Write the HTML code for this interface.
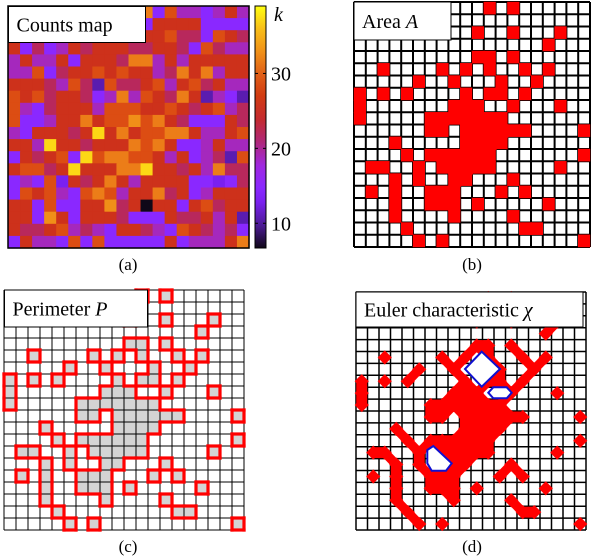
<!DOCTYPE html>
<html><head><meta charset="utf-8"><style>
html,body{margin:0;padding:0;background:#fff;}
svg{display:block;}
text,tspan{font-family:"Liberation Serif","DejaVu Serif","Times New Roman",Times,serif;}
</style></head><body>
<svg id="fig" width="600" height="560" viewBox="0 0 600 560" xmlns="http://www.w3.org/2000/svg">
<defs>
<linearGradient id="cbgrad" x1="0" y1="1" x2="0" y2="0">
<stop offset="0" stop-color="#100818"/>
<stop offset="0.09" stop-color="#4a1a90"/>
<stop offset="0.19" stop-color="#7a20f0"/>
<stop offset="0.25" stop-color="#8a28ff"/>
<stop offset="0.34" stop-color="#a028e0"/>
<stop offset="0.44" stop-color="#b02878"/>
<stop offset="0.53" stop-color="#c42a30"/>
<stop offset="0.63" stop-color="#d23c12"/>
<stop offset="0.72" stop-color="#e06018"/>
<stop offset="0.81" stop-color="#f09018"/>
<stop offset="0.91" stop-color="#f8c018"/>
<stop offset="1" stop-color="#ffff10"/>
</linearGradient>
</defs>
<g id="pa"></g>
<g id="pb"></g>
<g id="pc"></g>
<g id="pd"></g>
</svg>
<script>
const counts = [
[22,26,19,26,15,26,22,19,26,22,26,32,15,29,19,19,15,19,26,19],
[26,19,22,26,26,15,22,26,19,26,22,15,26,26,26,26,15,15,15,15],
[19,26,26,22,19,26,26,22,26,19,26,26,26,29,22,22,15,29,26,22],
[26,15,22,15,19,26,22,26,26,26,22,22,26,26,22,15,29,22,19,19],
[19,26,19,19,26,15,26,26,26,22,32,32,19,26,19,26,26,26,26,26],
[19,19,29,15,22,26,26,29,26,29,26,26,19,22,32,26,32,19,26,26],
[26,26,26,22,19,29,22,11,29,22,22,26,29,19,26,29,22,26,19,19],
[29,26,29,22,26,26,22,15,19,32,19,29,26,22,32,26,11,19,15,11],
[29,19,15,22,26,26,26,19,29,29,29,26,26,29,26,22,26,29,19,22],
[29,15,15,19,26,26,32,26,29,29,33,29,32,26,22,15,15,15,26,22],
[19,15,26,26,26,22,26,37,26,32,26,29,29,32,32,26,19,19,26,29],
[26,26,19,37,26,26,22,26,26,26,32,29,32,26,15,15,19,26,19,19],
[15,26,22,26,29,15,37,29,32,32,29,29,26,19,26,15,19,22,11,29],
[26,29,29,22,26,37,26,26,26,32,32,37,26,26,22,26,19,32,22,22],
[15,19,15,29,13,26,22,26,32,26,19,26,26,26,26,15,15,13,15,22],
[15,29,26,29,19,15,29,32,29,19,26,26,32,22,26,15,19,26,26,26],
[26,26,15,29,15,15,26,26,33,22,26,7,26,26,15,26,29,22,26,26],
[26,26,15,33,26,15,26,26,26,22,15,15,15,26,22,22,26,19,26,11],
[26,22,22,26,29,19,22,19,15,26,26,22,19,15,29,26,22,19,22,15],
[15,26,19,19,15,29,15,29,15,15,15,15,15,26,15,19,19,19,26,32]
];
const cbTicks = [10,20,30];
const cbMin = 6.7, cbMax = 39;
// red (above-threshold) cells per row: column indices
const areaRows = [
[11,13],[],[10,13,17],[16],[10,11,13],[2,7,9,11,14,16],[5,8,12,15],
[0,2,4,9,11,12,14],[0,8,9,10,13,17],[0,6,7,8,9,10,11,12],
[6,7,9,10,11,12,13,14,19],[3,9,10,11,12],[4,6,7,8,9,10,11,19],
[1,2,5,7,8,9,10,11,17],[3,5,8,9,13],[1,3,6,7,8,12,14],[3,6,7,8,10,16],
[3,8,13],[4,14,15],[5,7,19]
];
const N = 20;
const NS = "http://www.w3.org/2000/svg";
const SERIF = "'Liberation Serif','DejaVu Serif','Times New Roman',Times,serif";
function mk(parent, tag, attrs){const e=document.createElementNS(NS,tag);for(const k in attrs)e.setAttribute(k,attrs[k]);parent.appendChild(e);return e;}
const stops=[[7,[16,8,24]],[10,[74,26,144]],[13,[122,32,240]],[15,[138,40,255]],[18,[160,40,224]],[21,[176,40,120]],[23,[192,40,64]],[25,[200,42,32]],[28,[214,62,16]],[31,[232,108,24]],[34,[244,160,24]],[36,[250,196,24]],[39,[255,255,16]]];
function cmap(v){if(v<=stops[0][0])return `rgb(${stops[0][1]})`;for(let i=1;i<stops.length;i++){if(v<=stops[i][0]){const a=stops[i-1],b=stops[i],t=(v-a[0])/(b[0]-a[0]);const c=a[1].map((x,j)=>Math.round(x+(b[1][j]-x)*t));return `rgb(${c})`;}}return `rgb(${stops[stops.length-1][1]})`;}
const red = Array.from({length:N},()=>Array(N).fill(false));
areaRows.forEach((cols,r)=>cols.forEach(c=>{red[r][c]=true;}));
const isRed=(r,c)=>r>=0&&r<N&&c>=0&&c<N&&red[r][c];

function label(g,x,y,w,h,parts,fs,name){
  const b=mk(g,'rect',{x:x,y:y,width:w,height:h,fill:'#fff',stroke:'#000','stroke-width':1});
  
  
  const t=mk(g,'text',{x:x+8,y:y+h/2+fs*0.35,'font-size':fs,'font-family':SERIF});
  
  
  parts.forEach(p=>{const s=mk(t,'tspan',p[1]?{'font-style':'italic'}:{});s.textContent=p[0];});
}
function caption(g,x,y,txt,name){
  const t=mk(g,'text',{x:x,y:y,'font-size':17,'text-anchor':'middle','font-family':SERIF});
  t.textContent=txt;
  
  
}
function grid(g,x0,y0,w,h,sw){
  const gg=mk(g,'g',{stroke:'#000','stroke-width':sw});
  
  
  for(let i=0;i<=N;i++){
    mk(gg,'line',{x1:x0+i*w,y1:y0,x2:x0+i*w,y2:y0+N*h});
    mk(gg,'line',{x1:x0,y1:y0+i*h,x2:x0+N*w,y2:y0+i*h});
  }
}

// Panel (a)
(function(){
  const g=document.getElementById('pa');
  const x0=8,y0=6,W=241,H=242,cw=W/N,ch=H/N;
  counts.forEach((row,r)=>row.forEach((v,c)=>{
    const e=mk(g,'rect',{x:x0+c*cw,y:y0+r*ch,width:cw+0.6,height:ch+0.6,fill:cmap(v)});
    
    
  }));
  const fr=mk(g,'rect',{x:x0,y:y0,width:W,height:H,fill:'none',stroke:'#000','stroke-width':1.5});
  
  
  const cx=255,cwid=11,cy0=6,cy1=248;
  const cb=mk(g,'rect',{x:cx,y:cy0,width:cwid,height:cy1-cy0,fill:'url(#cbgrad)',stroke:'#000','stroke-width':1});
  
  
  const yv=v=>cy1-(v-cbMin)/(cbMax-cbMin)*(cy1-cy0);
  cbTicks.forEach(v=>{
    const y=yv(v);
    mk(g,'line',{x1:cx,y1:y,x2:cx+3,y2:y,stroke:'#000','stroke-width':1});
    mk(g,'line',{x1:cx+cwid-3,y1:y,x2:cx+cwid,y2:y,stroke:'#000','stroke-width':1});
    const t=mk(g,'text',{x:271,y:y+7,'font-size':20,'font-family':SERIF});
    t.textContent=String(v);
    
    
  });
  const k=mk(g,'text',{x:274,y:21,'font-size':20,'font-style':'italic','font-family':SERIF});
  k.textContent='k';
  
  
  label(g,8.5,6.5,137,36,[['Counts map',false]],20,'counts-map-label');
  caption(g,128,270,'(a)','caption-a');
})();

// Panel (b)
(function(){
  const g=document.getElementById('pb');
  const x0=354,y0=2,cw=11.8,ch=12.25;
  mk(g,'rect',{x:x0,y:y0,width:N*cw,height:N*ch,fill:'#fff'});
  grid(g,x0,y0,cw,ch,2);
  for(let r=0;r<N;r++)for(let c=0;c<N;c++)if(red[r][c]){
    const e=mk(g,'rect',{x:x0+c*cw-0.2,y:y0+r*ch-0.2,width:cw+(isRed(r,c+1)?1.2:0.4),height:ch+(isRed(r+1,c)?1.2:0.4),fill:'#ff0000'});
    
    
  }
  label(g,354,2,97,38,[['Area ',false],['A',true]],20,'area-label');
  caption(g,472,270,'(b)','caption-b');
})();

// Panel (c)
(function(){
  const g=document.getElementById('pc');
  const x0=4,y0=290,cw=12,ch=12;
  mk(g,'rect',{x:x0,y:y0,width:N*cw,height:N*ch,fill:'#fff'});
  for(let r=0;r<N;r++)for(let c=0;c<N;c++)if(red[r][c]){
    const e=mk(g,'rect',{x:x0+c*cw,y:y0+r*ch,width:cw,height:ch,fill:'#d4d4d4'});
    
    
  }
  grid(g,x0,y0,cw,ch,1);
  const pg=mk(g,'g',{stroke:'#ff0000','stroke-width':3.2,'stroke-linecap':'square'});
  
  
  for(let r=0;r<N;r++)for(let c=0;c<N;c++)if(red[r][c]){
    const x=x0+c*cw,y=y0+r*ch;
    if(!isRed(r-1,c))mk(pg,'line',{x1:x,y1:y,x2:x+cw,y2:y});
    if(!isRed(r+1,c))mk(pg,'line',{x1:x,y1:y+ch,x2:x+cw,y2:y+ch});
    if(!isRed(r,c-1))mk(pg,'line',{x1:x,y1:y,x2:x,y2:y+ch});
    if(!isRed(r,c+1))mk(pg,'line',{x1:x+cw,y1:y,x2:x+cw,y2:y+ch});
  }
  label(g,4.5,290,143,37,[['Perimeter ',false],['P',true]],20,'perimeter-label');
  caption(g,128,552,'(c)','caption-c');
})();

// Panel (d)
(function(){
  const g=document.getElementById('pd');
  const x0=356,y0=292,cw=11.5,ch=11.9;
  mk(g,'rect',{x:x0,y:y0,width:N*cw,height:N*ch,fill:'#fff'});
  grid(g,x0,y0,cw,ch,1.5);
  const rg=mk(g,'g',{fill:'#ff0000',stroke:'#ff0000'});
  
  
  const cxp=c=>x0+(c+0.5)*cw, cyp=r=>y0+(r+0.5)*ch;
  for(let r=0;r<N;r++)for(let c=0;c<N;c++)if(red[r][c]){
    const x=cxp(c),y=cyp(r),d=0.62*cw;
    mk(rg,'polygon',{points:`${x-d},${y} ${x},${y-d} ${x+d},${y} ${x},${y+d}`,'stroke-width':0});
    [[0,1,0.95],[1,0,0.95],[1,1,0.8],[1,-1,0.8]].forEach(([dr,dc,wf])=>{
      if(isRed(r+dr,c+dc)){
        mk(rg,'line',{x1:x,y1:y,x2:cxp(c+dc),y2:cyp(r+dr),'stroke-width':wf*cw,'stroke-linecap':'butt'});
      }
    });
    if(isRed(r,c+1)&&isRed(r+1,c)&&isRed(r+1,c+1))
      mk(rg,'rect',{x:x,y:y,width:cw,height:ch,'stroke-width':0});
  }
  const holes=[
    "465,369 481.7,351.7 500,369 481.7,386.7",
    "488.3,392.7 493.3,387.3 506.7,387.3 511.7,392.7 506.7,398.3 493.3,398.3",
    "427.3,450 433.3,446 451.7,463.3 446,470.7 431.7,470.7 427.3,463.3"
  ];
  holes.forEach(p=>{
    const e=mk(g,'polygon',{points:p,fill:'#fff',stroke:'#1010d0','stroke-width':2});
    
    
  });
  label(g,356,292,227,35,[['Euler characteristic ',false],['χ',true]],20,'euler-label');
  caption(g,472,552,'(d)','caption-d');
})();
</script>
</body></html>
